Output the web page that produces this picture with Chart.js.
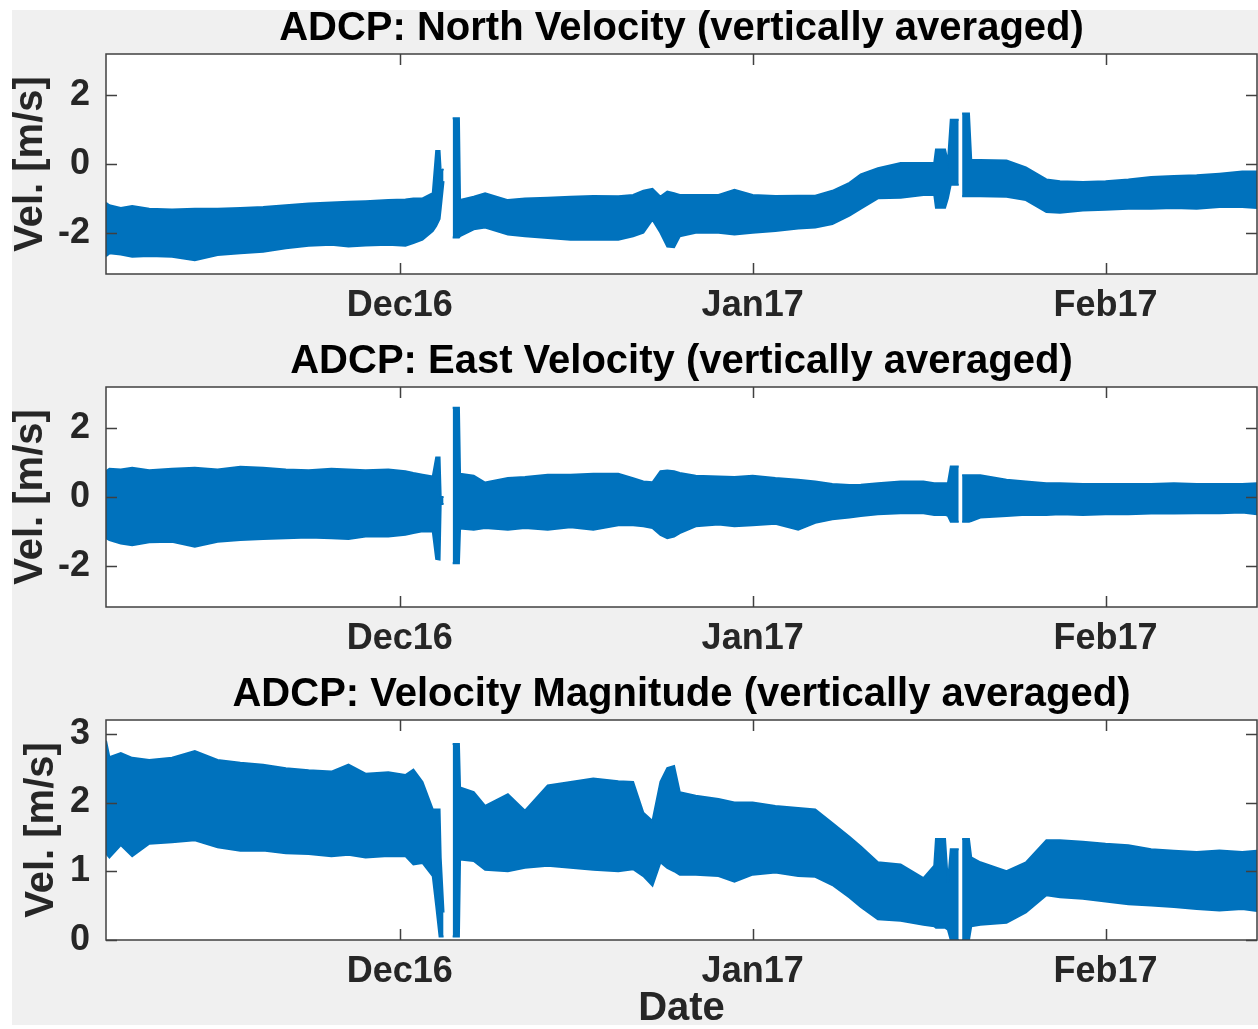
<!DOCTYPE html>
<html><head><meta charset="utf-8">
<script src="https://cdn.jsdelivr.net/npm/chart.js@4.4.1/dist/chart.umd.min.js"></script>
<style>
html,body{margin:0;padding:0;background:#fff;width:1258px;height:1029px;overflow:hidden;}
#fig{position:absolute;left:12px;top:10px;width:1246px;height:1015px;background:#f0f0f0;}
canvas.panel{position:absolute;left:0;}
</style></head><body>
<div id="fig"></div>
<canvas id="c1" class="panel" width="1258" height="330" style="top:0px"></canvas>
<canvas id="c2" class="panel" width="1258" height="330" style="top:333px"></canvas>
<canvas id="c3" class="panel" width="1258" height="363" style="top:666px"></canvas>
<script>
// ---- DATA (x = days since 1 Dec 2016; each series = upper / lower envelope of the tidal signal) ----
const days = [-25.8,-25.5,-24.5,-23.5,-22,-20,-18,-16,-14,-12,-10,-8,-6,-4.5,-3,-1,0.5,1.2,2.0,2.9,3.2,3.5,3.6,3.85,4.25,4.65,5.2,5.3,6.5,7.5,9.5,11,13,15,17,19.2,20.5,21.4,22.2,22.9,23.5,24.1,24.6,26,28,29.4,31,33,35,36.5,38,39.5,40.5,42,44,46,46.95,47.1,47.9,48.15,48.4,49.1,49.25,49.4,50.0,50.2,51,53.3,55,56.8,58,60,62,64,66,68,70,72,74,75.3];

const northTop = [-1.13,-1.2,-1.28,-1.22,-1.3,-1.32,-1.3,-1.3,-1.28,-1.25,-1.2,-1.15,-1.12,-1.1,-1.08,-1.05,-1.03,-1.0,-1.0,-0.85,0.38,0.38,-0.2,-0.15,null,1.33,1.33,-1.05,-0.95,-0.85,-1.05,-1.0,-0.98,-0.95,-0.93,-0.94,-0.9,-0.78,-0.72,-0.95,-0.8,-0.85,-0.9,-0.9,-0.9,-0.75,-0.9,-0.93,-0.92,-0.92,-0.78,-0.55,-0.3,-0.12,0.03,0.03,0.03,0.42,0.42,0.05,1.29,1.29,null,1.47,1.47,0.12,0.12,0.1,-0.1,-0.45,-0.5,-0.52,-0.5,-0.45,-0.38,-0.35,-0.33,-0.28,-0.22,-0.22];
const northBot = [-2.68,-2.6,-2.63,-2.7,-2.68,-2.7,-2.8,-2.65,-2.6,-2.55,-2.45,-2.38,-2.35,-2.4,-2.37,-2.35,-2.38,-2.3,-2.2,-1.95,-1.8,-1.6,-1.3,-0.5,null,-2.14,-2.14,-2.1,-1.9,-1.85,-2.05,-2.1,-2.15,-2.2,-2.2,-2.2,-2.1,-2.0,-1.62,-2.0,-2.4,-2.42,-2.1,-2.0,-2.0,-2.05,-2.0,-1.95,-1.88,-1.85,-1.75,-1.5,-1.3,-1.0,-0.98,-0.9,-0.9,-1.27,-1.27,-1.0,-0.6,-0.6,null,-0.94,-0.94,-0.94,-0.94,-0.95,-1.05,-1.4,-1.42,-1.35,-1.33,-1.3,-1.3,-1.28,-1.3,-1.25,-1.25,-1.28];

const eastTop = [0.75,0.82,0.8,0.85,0.78,0.82,0.85,0.8,0.88,0.85,0.8,0.78,0.82,0.8,0.78,0.8,0.75,0.7,0.65,0.6,1.15,1.15,0.0,0.0,null,2.6,2.6,0.68,0.62,0.42,0.55,0.58,0.65,0.65,0.68,0.68,0.55,0.45,0.43,0.75,0.77,0.75,0.7,0.62,0.6,0.58,0.62,0.55,0.5,0.45,0.38,0.35,0.36,0.4,0.45,0.45,0.4,0.4,0.4,0.4,0.89,0.89,null,0.63,0.63,0.63,0.63,0.5,0.45,0.4,0.4,0.38,0.38,0.38,0.38,0.4,0.38,0.38,0.38,0.4];
const eastBot = [-1.2,-1.25,-1.35,-1.4,-1.32,-1.3,-1.45,-1.3,-1.25,-1.22,-1.2,-1.18,-1.2,-1.22,-1.15,-1.15,-1.1,-1.05,-1.0,-1.0,-1.8,-1.82,-0.2,-0.2,null,-1.93,-1.93,-0.92,-0.95,-0.9,-0.95,-0.9,-0.95,-0.88,-0.95,-0.82,-0.82,-0.85,-0.9,-1.1,-1.2,-1.15,-1.05,-0.85,-0.8,-0.85,-0.82,-0.78,-0.95,-0.75,-0.65,-0.6,-0.55,-0.5,-0.47,-0.47,-0.52,-0.52,-0.52,-0.55,-0.72,-0.72,null,-0.72,-0.72,-0.7,-0.6,-0.55,-0.52,-0.52,-0.5,-0.52,-0.5,-0.5,-0.48,-0.48,-0.47,-0.47,-0.45,-0.5];

const magTop = [2.9,2.66,2.72,2.65,2.62,2.65,2.75,2.62,2.58,2.55,2.5,2.47,2.45,2.55,2.42,2.44,2.4,2.48,2.3,1.9,1.9,1.9,1.2,0.4,null,2.85,2.85,2.22,2.15,1.95,2.12,1.88,2.25,2.3,2.35,2.31,2.3,1.85,1.73,2.3,2.5,2.53,2.15,2.1,2.05,2.0,2.0,1.95,1.92,1.9,1.7,1.5,1.36,1.13,1.1,0.9,1.08,1.47,1.47,0.83,1.32,1.32,null,1.47,1.47,1.2,1.13,1.0,1.13,1.45,1.45,1.43,1.4,1.38,1.32,1.3,1.28,1.3,1.28,1.3];
const magBot = [1.26,1.2,1.38,1.22,1.4,1.42,1.45,1.35,1.3,1.3,1.26,1.25,1.22,1.24,1.2,1.22,1.22,1.1,1.12,0.93,0.5,0.05,0.05,0.05,null,0.05,0.05,1.17,1.15,1.02,1.0,1.05,1.08,1.05,1.02,1.0,1.03,0.93,0.79,1.13,1.05,1.0,0.95,0.95,0.93,0.85,0.95,0.98,0.93,0.92,0.8,0.62,0.48,0.3,0.28,0.22,0.2,0.18,0.18,0.15,0.0,0.0,null,0.0,0.0,0.2,0.22,0.25,0.4,0.65,0.62,0.6,0.56,0.52,0.5,0.48,0.45,0.43,0.45,0.42];

const xTickDays = [0, 31, 62];
const xTickLabels = ['Dec16', 'Jan17', 'Feb17'];
const yTicksVel = [-2, 0, 2];
const yTicksMag = [0, 1, 2, 3];
const titles = ['ADCP: North Velocity (vertically averaged)', 'ADCP: East Velocity (vertically averaged)', 'ADCP: Velocity Magnitude (vertically averaged)'];
const yLabel = 'Vel. [m/s]';
const xLabel = 'Date';

// ---- RENDERING ----
const BLUE = '#0072BD';
const AX = '#262626';
const FONT = '"Liberation Sans", Arial, Helvetica, sans-serif';

const framePlugin = {
  id: 'frame',
  beforeDatasetsDraw(chart) {
    const {ctx, chartArea: a} = chart;
    ctx.save();
    ctx.fillStyle = '#ffffff';
    ctx.fillRect(a.left, a.top, a.right - a.left, a.bottom - a.top);
    ctx.restore();
  },
  afterDatasetsDraw(chart) {
    const {ctx, chartArea: a, scales} = chart;
    const x = scales.x, y = scales.y;
    ctx.save();
    ctx.strokeStyle = '#404040';
    ctx.lineWidth = 1.5;
    ctx.strokeRect(a.left, a.top, a.right - a.left, a.bottom - a.top);
    const L = 11;
    ctx.beginPath();
    x.ticks.forEach((t, i) => {
      const px = Math.round(x.getPixelForTick(i)) + 0.5;
      ctx.moveTo(px, a.bottom); ctx.lineTo(px, a.bottom - L);
      ctx.moveTo(px, a.top); ctx.lineTo(px, a.top + L);
    });
    y.ticks.forEach((t, i) => {
      const py = Math.round(y.getPixelForTick(i)) + 0.5;
      ctx.moveTo(a.left, py); ctx.lineTo(a.left + L, py);
      ctx.moveTo(a.right, py); ctx.lineTo(a.right - L, py);
    });
    ctx.stroke();
    ctx.restore();
  }
};

function makePanel(id, title, top, bot, yMin, yMax, yTicks, showX, yTitlePad, xH) {
  const pts = arr => days.map((d, i) => ({x: d, y: arr[i]}));
  new Chart(document.getElementById(id), {
    type: 'line',
    data: {
      datasets: [
        {data: pts(top), borderColor: BLUE, backgroundColor: BLUE, borderWidth: 2, pointRadius: 0, fill: '+1', tension: 0, spanGaps: false},
        {data: pts(bot), borderColor: BLUE, backgroundColor: BLUE, borderWidth: 2, pointRadius: 0, fill: false, tension: 0, spanGaps: false}
      ]
    },
    options: {
      responsive: false,
      animation: false,
      events: [],
      layout: {padding: {left: 0, right: 1, top: 0, bottom: 0}},
      plugins: {
        legend: {display: false},
        tooltip: {enabled: false},
        title: {
          display: true, text: title, fullSize: false, color: '#000',
          font: {family: FONT, size: 40, weight: 'bold', lineHeight: 1.2},
          padding: {top: 5, bottom: 1}
        }
      },
      scales: {
        x: {
          type: 'linear', min: -25.8, max: 75.3,
          afterBuildTicks: s => { s.ticks = xTickDays.map(v => ({value: v})); },
          afterFit: s => { s.height = xH; },
          ticks: {
            autoSkip: false, maxRotation: 0, padding: 10, color: AX,
            font: {family: FONT, size: 36, weight: 'bold'},
            callback: (v, i) => xTickLabels[i]
          },
          grid: {display: false, drawTicks: false},
          border: {display: false},
          title: {
            display: showX, text: xLabel, color: AX, padding: {top: 0, bottom: 0},
            font: {family: FONT, size: 40, weight: 'bold', lineHeight: 1.0}
          }
        },
        y: {
          type: 'linear', min: yMin, max: yMax,
          afterBuildTicks: s => { s.ticks = yTicks.map(v => ({value: v})); },
          afterFit: s => { s.width = 106; },
          ticks: {
            padding: 16, color: AX,
            font: {family: FONT, size: 36, weight: 'bold'},
            callback: v => String(v)
          },
          grid: {display: false, drawTicks: false},
          border: {display: false},
          title: {
            display: true, text: yLabel, color: AX, padding: {top: yTitlePad, bottom: 0},
            font: {family: FONT, size: 40, weight: 'bold', lineHeight: 1.2}
          }
        }
      }
    },
    plugins: [framePlugin]
  });
}

makePanel('c1', titles[0], northTop, northBot, -3.2, 3.2, yTicksVel, false, 7, 56);
makePanel('c2', titles[1], eastTop, eastBot, -3.2, 3.2, yTicksVel, false, 7, 56);
makePanel('c3', titles[2], magTop, magBot, 0, 3.2, yTicksMag, true, 18, 89);
</script>
</body></html>
